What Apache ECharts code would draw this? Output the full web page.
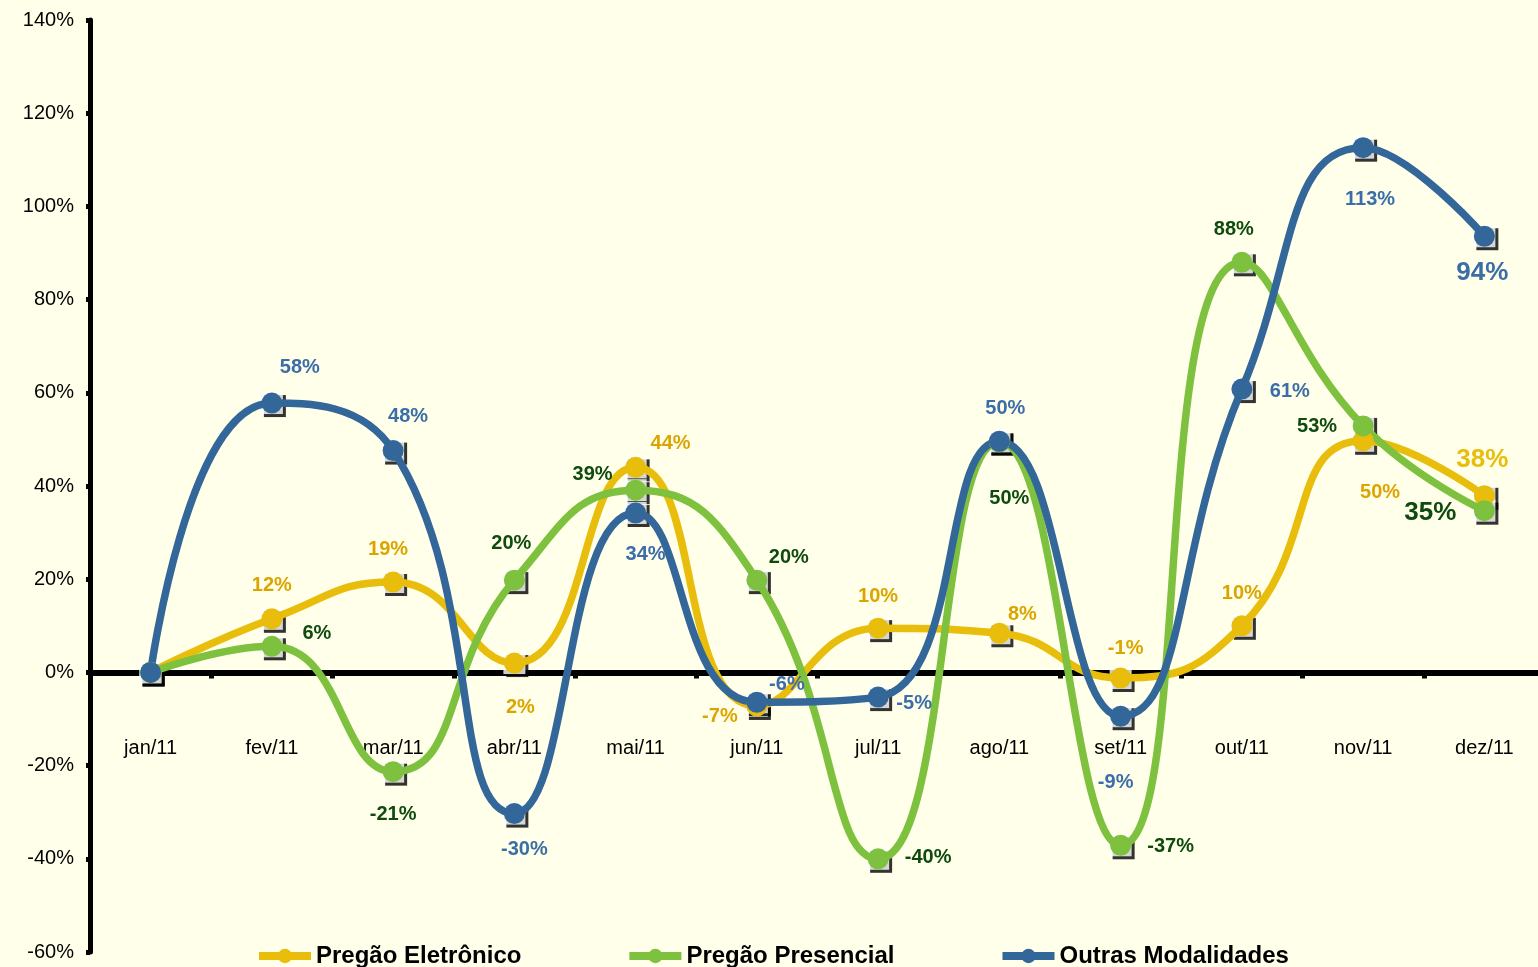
<!DOCTYPE html>
<html><head><meta charset="utf-8">
<script src="https://cdn.jsdelivr.net/npm/echarts@6/dist/echarts.min.js"></script>
<style>html,body{margin:0;padding:0;background:#FFFFEA;}#c{width:1538px;height:967px;}</style>
</head><body><div id="c"></div>
<script>
const categories = ['jan/11','fev/11','mar/11','abr/11','mai/11','jun/11','jul/11','ago/11','set/11','out/11','nov/11','dez/11'];
const yTicks = [-60,-40,-20,0,20,40,60,80,100,120,140];
const eletronico = [0, 11.5, 19.4, 2.0, 44.0, -7.2, 9.5, 8.4, -1.2, 10.0, 49.7, 37.9];
const presencial = [0, 5.6, -21.3, 19.8, 39.1, 19.8, -40.0, 49.5, -37.1, 88.0, 52.9, 34.7];
const outras = [0, 57.8, 47.6, -30.3, 34.2, -6.4, -5.3, 49.6, -9.4, 60.8, 112.6, 93.6];

// label placement (layout only): [dx, dy] offsets from point centre
const offE = [null,[0,-33],[-5,-33],[6,44],[35,-24],[-37,11],[0,-32],[23,-19],[5,-30],[0,-32],[17,52],[-2,-36]];
const offP = [null,[45,-13],[0,43],[-3,-37],[-43,-16],[32,-23],[50,-1],[10,57],[50,1],[-8,-33],[-46,1],[-54,2]];
const offO = [null,[28,-36],[15,-34],[10,36],[10,41],[30,-18],[36,6],[6,-33],[-5,66],[48,2],[7,52],[-2,37]];

const FONT = '"Liberation Sans", Arial, sans-serif';
function mkData(vals, offs, labelColor, bigColor) {
  return vals.map((v, i) => {
    if (!offs[i]) return { value: v, label: { show: false } };
    const big = i === vals.length - 1;
    return {
      value: v,
      label: {
        show: true, position: 'inside', offset: offs[i],
        formatter: Math.round(v) + '%',
        fontSize: big ? 26 : 20, fontWeight: 'bold', fontFamily: FONT,
        color: big && bigColor ? bigColor : labelColor
      }
    };
  });
}
function lineSeries(name, vals, offs, color, labelColor, bigColor) {
  return {
    name, type: 'line', data: mkData(vals, offs, labelColor, bigColor), smooth: 0.5,
    symbol: 'circle', symbolSize: 21, showSymbol: true,
    lineStyle: { color, width: 7.5 }, itemStyle: { color },
    z: 3
  };
}
function boxSeries(vals) {
  return {
    type: 'scatter', data: vals, symbol: 'rect', symbolSize: 22, silent: true,
    itemStyle: { color: '#ffffff', shadowColor: '#000', shadowOffsetX: 3, shadowOffsetY: 3, shadowBlur: 0 },
    z: 2
  };
}
const chart = echarts.init(document.getElementById('c'));
chart.setOption({
  animation: false,
  backgroundColor: '#FFFFEA',
  grid: { left: 90, right: -7, top: 20, bottom: 15, containLabel: false, outerBoundsMode: 'none' },
  legend: {
    data: ['Pregão Eletrônico','Pregão Presencial','Outras Modalidades'],
    left: 250, top: 939, itemGap: 104, itemWidth: 52, itemHeight: 18,
    lineStyle: { width: 8 },
    textStyle: { fontFamily: FONT, fontSize: 24, fontWeight: 'bold', color: '#000' }
  },
  xAxis: {
    type: 'category', data: categories, boundaryGap: true,
    axisLine: { onZero: true, lineStyle: { color: '#000', width: 6 } },
    axisTick: { show: true, length: 6, lineStyle: { color: '#000', width: 5 } },
    axisLabel: { margin: -214, verticalAlign: 'top', fontFamily: FONT, fontSize: 20, color: '#000' },
    splitLine: { show: false }
  },
  yAxis: {
    type: 'value', min: yTicks[0], max: yTicks[yTicks.length - 1], interval: 20,
    axisLine: { show: true, onZero: false, lineStyle: { color: '#000', width: 5 } },
    axisTick: { show: true, length: 4, lineStyle: { color: '#000', width: 5 } },
    axisLabel: { margin: 16, fontFamily: FONT, fontSize: 20, color: '#000', formatter: '{value}%' },
    splitLine: { show: false }
  },
  series: [
    boxSeries(eletronico), lineSeries('Pregão Eletrônico', eletronico, offE, '#E8BD0C', '#DBA500', '#E8BD0C'),
    boxSeries(presencial), lineSeries('Pregão Presencial', presencial, offP, '#7DC13F', '#0F4A0F', '#0F4A0F'),
    boxSeries(outras), lineSeries('Outras Modalidades', outras, offO, '#336699', '#3B6EA8', '#3B6EA8')
  ]
});
</script></body></html>
